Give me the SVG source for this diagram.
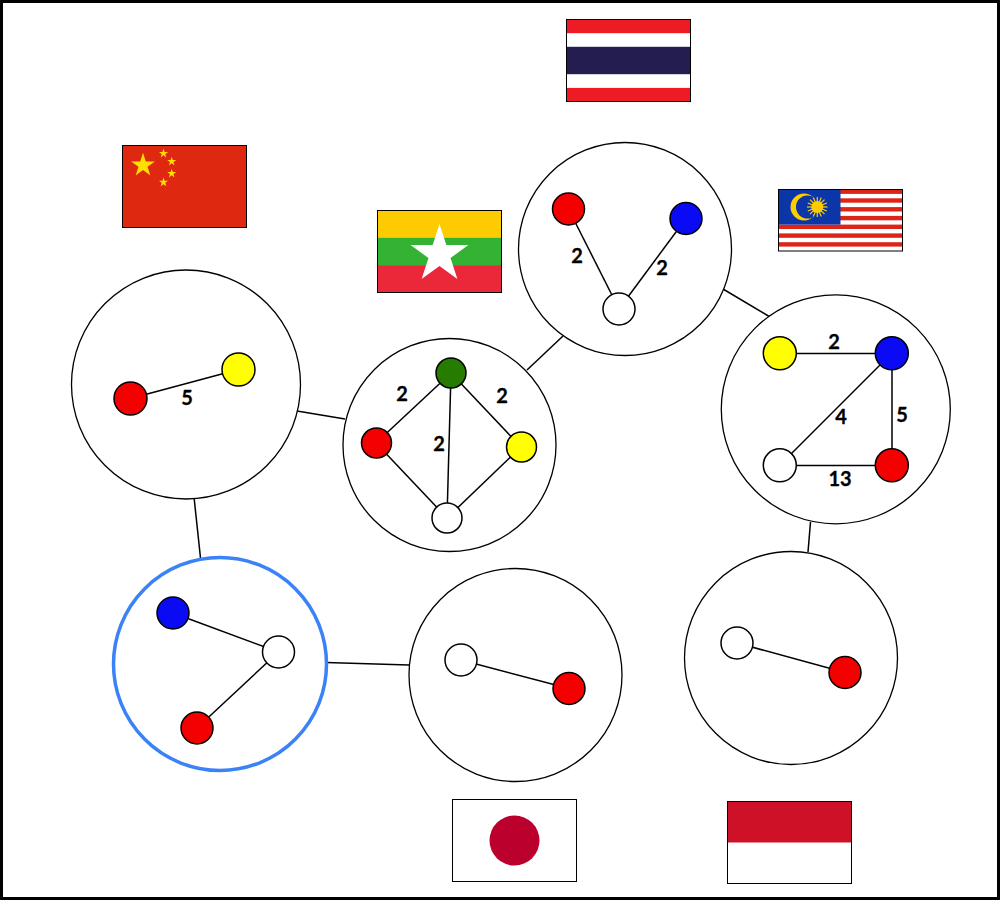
<svg xmlns="http://www.w3.org/2000/svg" width="1000" height="900" viewBox="0 0 1000 900">
<style>
.big{fill:#fff;stroke:#000;stroke-width:1.3}
.sel{fill:#fff;stroke:#3b82f6;stroke-width:3.5}
.n{stroke:#000;stroke-width:1.5}
.e{stroke:#000;stroke-width:1.5;fill:none}
.w{fill:#fff}.r{fill:#f50000}.b{fill:#0a0af5}.y{fill:#ffff00}.g{fill:#267c00}
.fb{fill:none;stroke:#000;stroke-width:1}
text{font-family:"Lato","Liberation Sans",sans-serif;font-weight:700;font-size:20px;fill:#000;stroke:#000;stroke-width:.3;text-anchor:middle}
</style>
<defs>
<polygon id="star" points="0,-1 .2245,-.309 .951,-.309 .363,.118 .588,.809 0,.382 -.588,.809 -.363,.118 -.951,-.309 -.2245,-.309"/>
</defs>
<rect x="0" y="0" width="1000" height="900" fill="#fff"/>
<g id="connectors" class="e">
<line x1="297" y1="411" x2="345" y2="419"/>
<line x1="527" y1="370" x2="563" y2="336"/>
<line x1="723" y1="289" x2="770" y2="317"/>
<line x1="810.500" y1="522" x2="808" y2="552"/>
<line x1="326" y1="662.500" x2="409" y2="665"/>
<line x1="194" y1="497" x2="200.500" y2="558"/>
</g>
<g id="node-china">
<circle class="big" cx="186" cy="384.500" r="114.500"/>
<g class="e"><line x1="130.500" y1="398.500" x2="238.500" y2="369.500"/></g>
<circle class="n r" cx="130.500" cy="398.500" r="16.500"/>
<circle class="n y" cx="238.500" cy="369.500" r="16.500"/>
<text x="187" y="405">5</text>
</g>
<g id="node-myanmar">
<circle class="big" cx="449.500" cy="445" r="106.500"/>
<g class="e">
<line x1="451" y1="373" x2="376" y2="443"/>
<line x1="451" y1="373" x2="521" y2="447"/>
<line x1="451" y1="373" x2="447" y2="518"/>
<line x1="376" y1="443" x2="447" y2="518"/>
<line x1="521" y1="447" x2="447" y2="518"/>
</g>
<circle class="n g" cx="451" cy="373" r="15"/>
<circle class="n r" cx="376.500" cy="443" r="15"/>
<circle class="n y" cx="521.500" cy="447" r="15"/>
<circle class="n w" cx="447" cy="518" r="15"/>
<text x="402" y="401">2</text>
<text x="502" y="403">2</text>
<text x="439" y="451">2</text>
</g>
<g id="node-thailand">
<circle class="big" cx="625" cy="249" r="106.500"/>
<g class="e">
<line x1="568.500" y1="209" x2="619" y2="309"/>
<line x1="686" y1="218.500" x2="619" y2="309"/>
</g>
<circle class="n r" cx="568.500" cy="209" r="16"/>
<circle class="n b" cx="686" cy="218.500" r="16"/>
<circle class="n w" cx="619" cy="309" r="16"/>
<text x="577" y="263">2</text>
<text x="662" y="275">2</text>
</g>
<g id="node-malaysia">
<circle class="big" cx="835.800" cy="409.300" r="114.500"/>
<g class="e">
<line x1="779.500" y1="353.500" x2="891.500" y2="353.500"/>
<line x1="891.500" y1="353.500" x2="779.500" y2="465.500"/>
<line x1="892" y1="353.500" x2="892" y2="465.500"/>
<line x1="779.500" y1="465.500" x2="891.500" y2="465.500"/>
</g>
<circle class="n y" cx="779.800" cy="353.300" r="16.500"/>
<circle class="n b" cx="891.800" cy="353.300" r="16.500"/>
<circle class="n w" cx="779.800" cy="465.300" r="16.500"/>
<circle class="n r" cx="891.800" cy="465.300" r="16.500"/>
<text x="834" y="349">2</text>
<text x="841" y="424">4</text>
<text x="902" y="422">5</text>
<text x="840" y="486">13</text>
</g>
<g id="node-indonesia">
<circle class="big" cx="791" cy="658" r="106.500"/>
<g class="e"><line x1="737" y1="643" x2="845" y2="672.500"/></g>
<circle class="n w" cx="737" cy="643" r="16"/>
<circle class="n r" cx="845" cy="672.500" r="16"/>
</g>
<g id="node-japan">
<circle class="big" cx="515.500" cy="675" r="106.500"/>
<g class="e"><line x1="461" y1="660" x2="569" y2="688.500"/></g>
<circle class="n w" cx="461" cy="660" r="16"/>
<circle class="n r" cx="569" cy="688.500" r="16"/>
</g>
<g id="node-selected">
<circle class="sel" cx="220" cy="664" r="106.500"/>
<g class="e">
<line x1="173" y1="613" x2="278.500" y2="652"/>
<line x1="278.500" y1="652" x2="197" y2="728"/>
</g>
<circle class="n b" cx="173" cy="613" r="16"/>
<circle class="n w" cx="278.500" cy="652" r="16"/>
<circle class="n r" cx="197" cy="728" r="16"/>
</g>
<g id="flag-china">
<rect x="122.500" y="145.500" width="124" height="82" fill="#de2910"/>
<g fill="#ffde00">
<use href="#star" transform="translate(143 165.300) scale(12.500)"/>
<use href="#star" transform="translate(163.500 153.500) scale(4.800)"/>
<use href="#star" transform="translate(171.700 161.500) scale(4.800)"/>
<use href="#star" transform="translate(171.700 173.500) scale(4.800)"/>
<use href="#star" transform="translate(163.500 182.300) scale(4.800)"/>
</g>
<rect class="fb" x="122.500" y="145.500" width="124" height="82"/>
</g>
<g id="flag-myanmar">
<rect x="377.500" y="210.500" width="124" height="27.400" fill="#fecb00"/>
<rect x="377.500" y="237.800" width="124" height="27.400" fill="#34b233"/>
<rect x="377.500" y="265.100" width="124" height="27.400" fill="#ea2839"/>
<use href="#star" fill="#fff" transform="translate(439.500 254.400) scale(30.400)"/>
<rect class="fb" x="377.500" y="210.500" width="124" height="82"/>
</g>
<g id="flag-thailand">
<rect x="566.500" y="19.500" width="124" height="82" fill="#ed1c24"/>
<rect x="566.500" y="33.200" width="124" height="54.700" fill="#fff"/>
<rect x="566.500" y="46.800" width="124" height="27.400" fill="#241d4f"/>
<rect class="fb" x="566.500" y="19.500" width="124" height="82"/>
</g>
<g id="flag-malaysia">
<rect x="778.500" y="189.500" width="124" height="61.500" fill="#fff"/>
<g fill="#dd2418">
<rect x="778.500" y="189.500" width="124" height="4.400"/>
<rect x="778.500" y="198.300" width="124" height="4.400"/>
<rect x="778.500" y="207.100" width="124" height="4.400"/>
<rect x="778.500" y="215.900" width="124" height="4.400"/>
<rect x="778.500" y="224.600" width="124" height="4.400"/>
<rect x="778.500" y="233.400" width="124" height="4.400"/>
<rect x="778.500" y="242.200" width="124" height="4.400"/>
</g>
<rect x="778.500" y="189.500" width="62" height="35.100" fill="#0a36a8"/>
<circle cx="804" cy="207" r="13.500" fill="#ffcc00"/>
<circle cx="807.500" cy="207" r="11.500" fill="#0a36a8"/>
<g stroke="#ffcc00" stroke-width="1.200">
<line x1="807" y1="207" x2="827.500" y2="207"/>
<line x1="817.300" y1="197" x2="817.300" y2="217"/>
<line x1="810" y1="199.700" x2="824.500" y2="214.200"/>
<line x1="810" y1="214.200" x2="824.500" y2="199.700"/>
<line x1="807.800" y1="203" x2="826.800" y2="211"/>
<line x1="807.800" y1="211" x2="826.800" y2="203"/>
<line x1="813.300" y1="197.500" x2="821.300" y2="216.500"/>
<line x1="813.300" y1="216.500" x2="821.300" y2="197.500"/>
</g>
<circle cx="817.300" cy="207" r="6" fill="#ffcc00"/>
<rect class="fb" x="778.500" y="189.500" width="124" height="61.500"/>
</g>
<g id="flag-japan">
<rect x="452.500" y="799.500" width="124" height="82" fill="#fff"/>
<circle cx="514.500" cy="840.500" r="25" fill="#bc002d"/>
<rect class="fb" x="452.500" y="799.500" width="124" height="82"/>
</g>
<g id="flag-indonesia">
<rect x="727.500" y="801.500" width="124" height="82" fill="#fff"/>
<rect x="727.500" y="801.500" width="124" height="41" fill="#ce1126"/>
<rect class="fb" x="727.500" y="801.500" width="124" height="82"/>
</g>
<rect id="frame" x="1.500" y="1.500" width="997" height="897" fill="none" stroke="#000" stroke-width="3"/>
</svg>
